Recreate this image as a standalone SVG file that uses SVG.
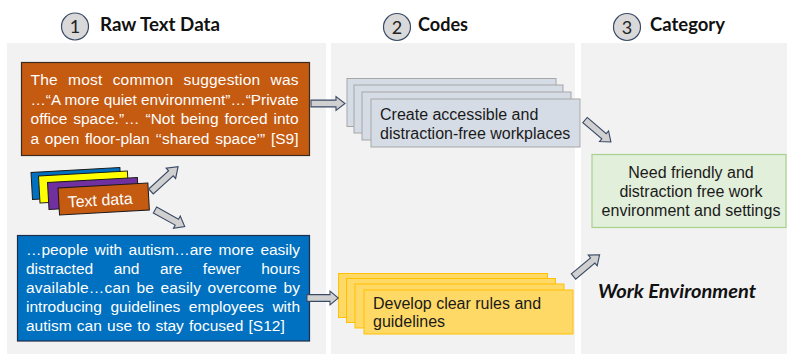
<svg xmlns="http://www.w3.org/2000/svg" width="787" height="354" viewBox="0 0 787 354">
<style>
.panel{fill:#f2f2f2}
.num{fill:#d9d9d9;stroke:#3a4a66;stroke-width:1.2}
.numt{font-family:Lato,"Liberation Sans",sans-serif;font-size:18px;fill:#222;text-anchor:middle}
.head{font-family:Lato,"Liberation Sans",sans-serif;font-size:19px;font-weight:bold;fill:#111}
.body{font-family:"Liberation Sans",Arial,sans-serif;font-size:15.5px}
.b16{font-family:"Liberation Sans",Arial,sans-serif;font-size:16px}
.mid{text-anchor:middle}
.w{fill:#fff}
.k{fill:#1a1a1a}
.arrow{fill:#d0d0d0;stroke:#3a4a66;stroke-width:1.1;stroke-linejoin:miter}
.code1{fill:#d6dce5;stroke:#a6a6a6;stroke-width:1}
.code2{fill:#ffd966;stroke:#ffc000;stroke-width:1}
</style>
<defs>
<path id="blk" class="arrow" d="M0,-3.4 H25 V-7 L34,0 L25,7 V3.4 H0 Z"/>
</defs>
<rect class="panel" x="7" y="43" width="319" height="311"/>
<rect class="panel" x="331" y="43" width="244" height="311"/>
<rect class="panel" x="581" y="43" width="206" height="311"/>

<g id="header1">
<circle class="num" cx="75" cy="26.5" r="13.5"/>
<text class="numt" x="75" y="33">1</text>
<text class="head" x="100" y="31" textLength="120" lengthAdjust="spacingAndGlyphs">Raw Text Data</text>
</g>
<g id="header2">
<circle class="num" cx="397" cy="27" r="13.5"/>
<text class="numt" x="397" y="33.5">2</text>
<text class="head" x="418" y="31" textLength="50" lengthAdjust="spacingAndGlyphs">Codes</text>
</g>
<g id="header3">
<circle class="num" cx="627" cy="27" r="13.5"/>
<text class="numt" x="627" y="33.5">3</text>
<text class="head" x="650" y="31" textLength="75" lengthAdjust="spacingAndGlyphs">Category</text>
</g>

<g id="quote-s9">
<rect x="21.5" y="62.5" width="288" height="93" fill="#c55a11" stroke="#3b2a1e" stroke-width="1.2"/>
<text class="body w" x="30.5" y="85" word-spacing="5.85" textLength="268" lengthAdjust="spacing">The most common suggestion was</text>
<text class="body w" x="30.5" y="104.5" textLength="268" lengthAdjust="spacingAndGlyphs">…“A more quiet environment”…“Private</text>
<text class="body w" x="30.5" y="124" word-spacing="1.5" textLength="268" lengthAdjust="spacing">office space.”… “Not being forced into</text>
<text class="body w" x="30.5" y="143.5" word-spacing="1.4" textLength="268" lengthAdjust="spacing">a open floor-plan ‘‘shared space’” [S9]</text>
</g>

<g id="text-data">
<rect x="0" y="0" width="89" height="27" fill="#0070c0" stroke="#1a1a1a" stroke-width="1" transform="translate(31,172.5) rotate(-3.2)"/>
<rect x="0" y="0" width="89" height="27" fill="#ffff00" stroke="#1a1a1a" stroke-width="1" transform="translate(38.5,176) rotate(-3.2)"/>
<rect x="0" y="0" width="90" height="27" fill="#7030a0" stroke="#1a1a1a" stroke-width="1" transform="translate(47.5,182.5) rotate(-3.2)"/>
<rect x="0" y="0" width="90" height="27" fill="#c55a11" stroke="#1a1a1a" stroke-width="1" transform="translate(58,188) rotate(-3.2)"/>
<text class="b16 w" transform="translate(68,207.5) rotate(-3.2)">Text data</text>
</g>

<g id="quote-s12">
<rect x="17.5" y="235.5" width="292" height="105.5" fill="#0070c0" stroke="#1f2e4a" stroke-width="1.2"/>
<text class="body w" x="26" y="254.5" word-spacing="2.2" textLength="274" lengthAdjust="spacing">…people with autism…are more easily</text>
<text class="body w" x="26" y="274" word-spacing="16.2" textLength="274" lengthAdjust="spacing">distracted and are fewer hours</text>
<text class="body w" x="26" y="293" word-spacing="1.9" textLength="274" lengthAdjust="spacing">available…can be easily overcome by</text>
<text class="body w" x="26" y="312" word-spacing="4.3" textLength="274" lengthAdjust="spacing">introducing guidelines employees with</text>
<text class="body w" x="26" y="331" word-spacing="0.9">autism can use to stay focused [S12]</text>
</g>

<g id="code-workplaces">
<rect class="code1" x="347" y="78.5" width="209" height="48"/>
<rect class="code1" x="354" y="85" width="209" height="48"/>
<rect class="code1" x="362" y="92" width="209" height="48"/>
<rect class="code1" x="371" y="99" width="209" height="48"/>
<text class="b16 k" x="380" y="119.5">Create accessible and</text>
<text class="b16 k" x="380" y="138.5">distraction-free workplaces</text>
</g>

<g id="code-rules">
<rect class="code2" x="338.5" y="273.5" width="209" height="44"/>
<rect class="code2" x="346.5" y="278.5" width="209" height="44"/>
<rect class="code2" x="355" y="284" width="209" height="44"/>
<rect class="code2" x="364" y="290" width="209" height="44"/>
<text class="b16 k" x="373" y="308.5">Develop clear rules and</text>
<text class="b16 k" x="373" y="327">guidelines</text>
</g>

<g id="category">
<rect x="592" y="154.5" width="194" height="73" fill="#e2efda" stroke="#a9d18e" stroke-width="1.2"/>
<text class="b16 k mid" x="691" y="177.5">Need friendly and</text>
<text class="b16 k mid" x="691" y="196.5">distraction free work</text>
<text class="b16 k mid" x="691" y="215.5">environment and settings</text>
</g>

<g id="category-label">
<text x="598" y="298" font-family="Lato,'Liberation Sans',sans-serif" font-size="19" font-weight="bold" font-style="italic" fill="#111" textLength="158" lengthAdjust="spacingAndGlyphs">Work Environment</text>
</g>

<g id="connectors">
<use href="#blk" transform="translate(311,103.5)"/>
<use href="#blk" transform="translate(307,298) scale(0.92,1)"/>
<use href="#blk" transform="translate(151,191.5) rotate(-42.5) scale(1.08,1)"/>
<use href="#blk" transform="translate(155,210) rotate(29)"/>
<use href="#blk" transform="translate(585,120) rotate(40.4)"/>
<use href="#blk" transform="translate(573.5,276.5) rotate(-39.8)"/>
</g>
</svg>
